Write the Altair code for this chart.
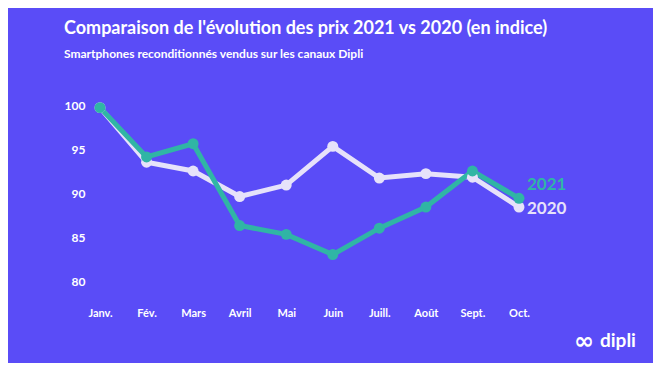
import altair as alt
import pandas as pd

months = ["Janv.", "Fév.", "Mars", "Avril", "Mai", "Juin", "Juill.", "Août", "Sept.", "Oct."]
values_2020 = [99.7, 93.5, 92.5, 89.6, 90.9, 95.3, 91.7, 92.2, 91.8, 88.4]
values_2021 = [99.7, 94.1, 95.6, 86.3, 85.3, 83.0, 86.0, 88.4, 92.5, 89.4]
y_ticks = [80, 85, 90, 95, 100]

BG = "#5A4CF7"
C2020 = "#E6E2FA"
C2021 = "#30B5A5"
FONT = "Lato"

df = pd.DataFrame({
    "mois": months * 2,
    "indice": values_2020 + values_2021,
    "annee": ["2020"] * len(months) + ["2021"] * len(months),
})
last = pd.DataFrame({
    "mois": [months[-1], months[-1]],
    "indice": [values_2020[-1], values_2021[-1]],
    "annee": ["2020", "2021"],
})

x = alt.X("mois:N", sort=months, title=None,
          scale=alt.Scale(type="point", padding=0),
          axis=alt.Axis(labelAngle=0, labelColor="white", labelFont=FONT,
                        labelFontWeight="bold", labelFontSize=11, labelPadding=26,
                        domain=False, ticks=False, grid=False))
y = alt.Y("indice:Q", title=None,
          scale=alt.Scale(domain=[80, 100], zero=False, nice=False),
          axis=alt.Axis(values=y_ticks, labelColor="white", labelFont=FONT,
                        labelFontWeight="bold", labelFontSize=12, labelPadding=15,
                        domain=False, ticks=False, grid=False))
color = alt.Color("annee:N", legend=None,
                  scale=alt.Scale(domain=["2020", "2021"], range=[C2020, C2021]))
order = alt.Order("annee:N")

base = alt.Chart(df)
lines = base.mark_line(strokeWidth=5, clip=False).encode(x=x, y=y, color=color, detail="annee:N")
points = base.mark_point(filled=True, size=120, opacity=1, clip=False).encode(x=x, y=y, color=color, order=order)

lab21 = alt.Chart(last[last.annee == "2021"]).mark_text(
    align="left", baseline="middle", dx=8, dy=-13, font=FONT, fontWeight="bold", fontSize=17
).encode(x=alt.X("mois:N", sort=months), y="indice:Q", text="annee:N", color=color)
lab20 = alt.Chart(last[last.annee == "2020"]).mark_text(
    align="left", baseline="middle", dx=8, dy=2, font=FONT, fontWeight="bold", fontSize=17
).encode(x=alt.X("mois:N", sort=months), y="indice:Q", text="annee:N", color=color)

title_df = pd.DataFrame({"t": ["Comparaison de l'évolution des prix 2021 vs 2020 (en indice)"]})
sub_df = pd.DataFrame({"t": ["Smartphones reconditionnés vendus sur les canaux Dipli"]})
logo_df = pd.DataFrame({"t": ["dipli"]})

title = alt.Chart(title_df).mark_text(
    align="left", baseline="middle", font=FONT, fontWeight="bold", fontSize=18, color="white"
).encode(x=alt.value(-36), y=alt.value(-76), text="t:N")
subtitle = alt.Chart(sub_df).mark_text(
    align="left", baseline="middle", font=FONT, fontWeight="bold", fontSize=12, color="white"
).encode(x=alt.value(-36), y=alt.value(-51), text="t:N")
logo = alt.Chart(logo_df).mark_text(
    align="left", baseline="middle", font=FONT, fontWeight="bold", fontSize=19, color="white"
).encode(x=alt.value(500), y=alt.value(236), text="t:N")
logo_icon = alt.Chart(pd.DataFrame({"t": ["∞"]})).mark_text(
    align="center", baseline="middle", font="DejaVu Sans", fontWeight="bold", fontSize=24, color="white"
).encode(x=alt.value(484), y=alt.value(237), text="t:N")

chart = alt.layer(lines, points, lab21, lab20, title, subtitle, logo, logo_icon).properties(
    width=419, height=176,
    background=BG,
    padding={"left": 92, "top": 97, "right": 134, "bottom": 82},
    autosize=alt.AutoSizeParams(type="none"),
).configure_view(stroke=None)

chart.save("out.html", embed_options={"renderer": "svg", "actions": False})
